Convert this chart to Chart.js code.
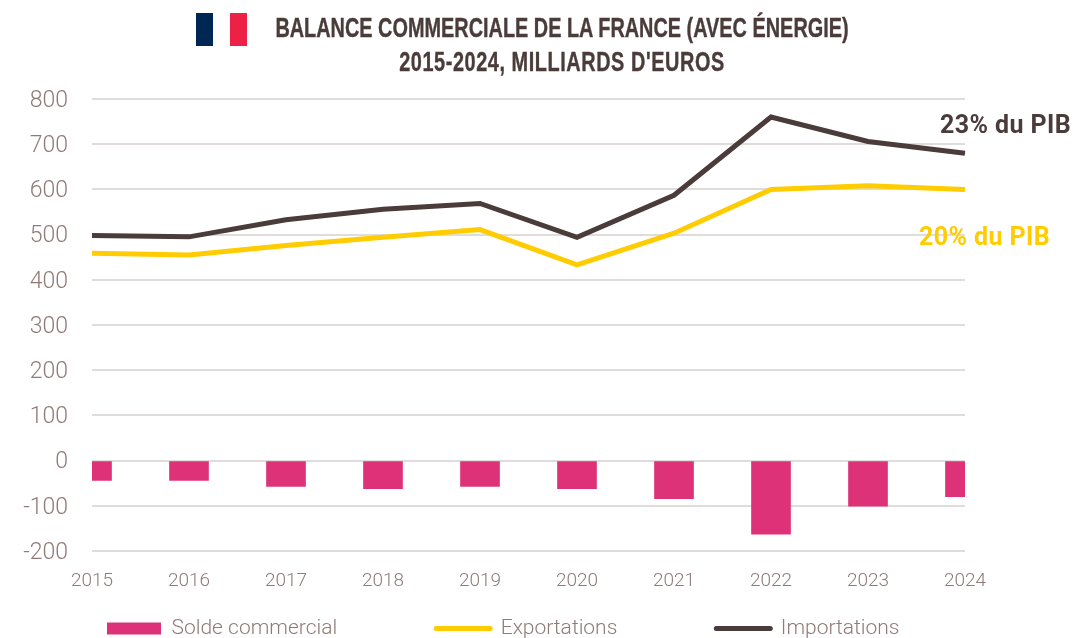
<!DOCTYPE html>
<html><head><meta charset="utf-8">
<script src="https://cdn.jsdelivr.net/npm/chart.js@4"></script>
<style>
html,body{margin:0;padding:0;background:#fff;width:1073px;height:638px;overflow:hidden}
#wrap{position:relative;width:1073px;height:638px}
canvas{position:absolute;left:0;top:0}
#flag{position:absolute;left:196px;top:13px;width:51px;height:33px;display:flex}
#flag i{flex:1;display:block}
#title{position:absolute;left:62px;top:11px;width:1000px;text-align:center;font:bold 28px/34px "Liberation Sans",sans-serif;color:#4a3c3a;white-space:nowrap;transform:scaleX(.71);transform-origin:center;-webkit-text-stroke:.4px #4a3c3a}
#title span{letter-spacing:.8px}
</style></head><body>
<div id="wrap">
<canvas id="c" width="1073" height="638"></canvas>
<div id="flag"><i style="background:#002654"></i><i style="background:#fff"></i><i style="background:#ed2145"></i></div>
<div id="title">BALANCE COMMERCIALE DE LA FRANCE (AVEC ÉNERGIE)<br><span>2015-2024, MILLIARDS D'EUROS</span></div>
</div>
<script>
const years = ['2015','2016','2017','2018','2019','2020','2021','2022','2023','2024'];
const solde = [-44,-44,-57,-62,-57,-62,-84,-163,-101,-80];
const exportations = [459,455,476,494,511,433,503,600,608,600];
const importations = [498,495,533,556,569,494,587,760,706,680];
const DARK='#4a3c3a', YEL='#ffcc00', PINK='#de3278', TXT='#8f7b78', GRID='#e1dcdc';
const LEGEND_PAD=99;
const notes = {
  id:'notes',
  beforeDraw(chart){
    chart.scales.y.getLabelItems().forEach(i=>{i.options.translation[1]+=2;});
  },
  afterDatasetsDraw(chart){
    const {ctx,scales:{x,y}} = chart;
    ctx.save();
    ctx.font='bold 25px Roboto, sans-serif';
    ctx.letterSpacing='0.4px';
    ctx.textAlign='right'; ctx.textBaseline='middle';
    const xEnd=x.getPixelForValue(9);
    ctx.fillStyle=DARK; ctx.fillText('23% du PIB',xEnd+106,y.getPixelForValue(680)-26);
    ctx.fillStyle=YEL; ctx.fillText('20% du PIB',xEnd+85,y.getPixelForValue(600)+49);
    ctx.restore();
  }
};
const legendShift = {id:'legendShift',
  beforeLayout(chart){
    const l=chart.legend;
    if(!l._wrapped){const f=l.fit;l.fit=function(){this.maxWidth=1400;f.call(this);this.height=47;};l._wrapped=true;}
  },
  afterLayout(chart){const l=chart.legend;l.left=8;l.right=1400;l.top+=27-LEGEND_PAD;}};
new Chart(document.getElementById('c'),{
  type:'bar',
  data:{labels:years,datasets:[
    {type:'bar',label:'Solde commercial',data:solde,backgroundColor:PINK,barThickness:39,order:3},
    {type:'line',label:'Exportations',data:exportations,borderColor:YEL,backgroundColor:YEL,borderWidth:5,pointRadius:0,tension:0,order:2},
    {type:'line',label:'Importations',data:importations,borderColor:DARK,backgroundColor:DARK,borderWidth:5,pointRadius:0,tension:0,order:1}
  ]},
  plugins:[notes,legendShift],
  options:{
    responsive:false,animation:false,
    layout:{padding:{left:0,right:108,top:99,bottom:0}},
    scales:{
      x:{offset:false,grid:{display:false},border:{display:false},
        ticks:{color:TXT,font:{family:'Roboto',size:19,weight:'300'},maxRotation:0,autoSkip:false,padding:11},
        afterFit(s){s.height=40}},
      y:{min:-200,max:800,grid:{color:GRID,lineWidth:2,drawTicks:false},border:{display:false},
        ticks:{stepSize:100,color:TXT,font:{family:'Roboto',size:23,weight:'300'},padding:24},
        afterFit(s){s.width=92}}
    },
    plugins:{
      title:{display:false},tooltip:{enabled:false},
      legend:{position:'bottom',align:'start',labels:{
        usePointStyle:true,pointStyleWidth:54,boxHeight:12,padding:LEGEND_PAD,color:TXT,
        font:{family:'Roboto',size:21,weight:'300'},
        generateLabels(chart){
          return chart.data.datasets.map((d,i)=>({text:d.label,datasetIndex:i,
            fillStyle:d.backgroundColor,strokeStyle:d.type==='bar'?d.backgroundColor:d.borderColor,
            lineWidth:d.type==='bar'?0:5,lineCap:'round',fontColor:TXT,
            pointStyle:d.type==='bar'?'rect':'line'}));
        }
      }}
    }
  }
});
</script>
</body></html>
